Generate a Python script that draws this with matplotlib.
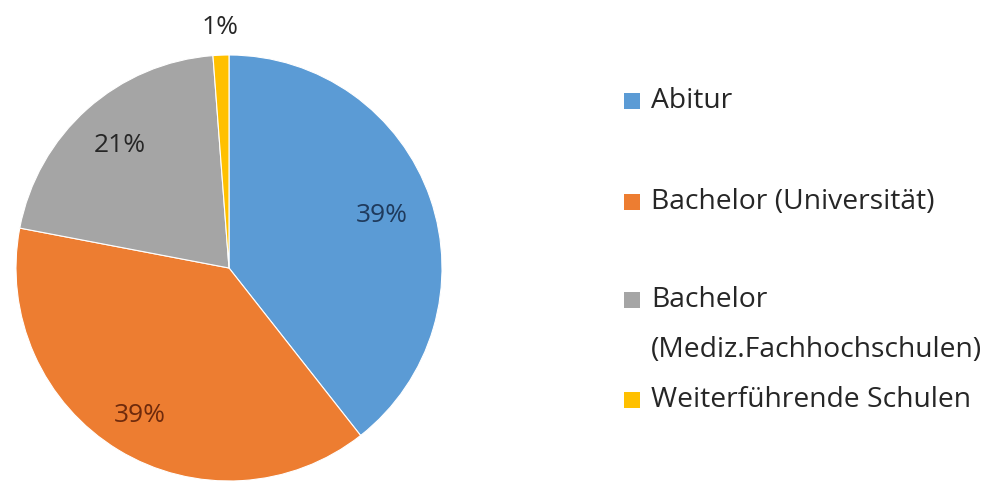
import numpy as np
import matplotlib
matplotlib.use("Agg")
import matplotlib.pyplot as plt
from matplotlib.patches import Rectangle

categories = ["Abitur", "Bachelor (Universität)", "Bachelor\n(Mediz.Fachhochschulen)", "Weiterführende Schulen"]
values = [39.4, 38.6, 20.8, 1.2]
pct_labels = ["39%", "39%", "21%", "1%"]
colors = ["#5B9BD5", "#ED7D31", "#A5A5A5", "#FFC000"]
label_colors = ["#1F3A5C", "#6E2A0C", "#262626", "#262626"]
label_dist = [0.76, 0.81, 0.77, 1.13]

plt.rcParams['font.family'] = ['Open Sans', 'DejaVu Sans']
W, H = 995, 483
fig = plt.figure(figsize=(W / 100, H / 100), dpi=100)
cx, cy, r = 229, 268, 213
ax = fig.add_axes([(cx - r) / W, (H - cy - r) / H, 2 * r / W, 2 * r / H])
wedges, _ = ax.pie(values, colors=colors, startangle=90, counterclock=False,
                   radius=1, wedgeprops=dict(edgecolor="white", linewidth=0.8))
ax.set_xlim(-1, 1)
ax.set_ylim(-1, 1)
ax.set_aspect("equal")
ax.axis("off")

for w, lab, d, tc in zip(wedges, pct_labels, label_dist, label_colors):
    ang = np.deg2rad((w.theta1 + w.theta2) / 2)
    ax.text(d * np.cos(ang), d * np.sin(ang), lab, ha="center", va="center",
            fontsize=19, color=tc)

# legend (manual layout)
leg_y = [101, 202, 300, 400]
sq = 16
for c, lab, y in zip(colors, categories, leg_y):
    fig.patches.append(Rectangle((624 / W, (H - y - sq / 2) / H), sq / W, sq / H,
                                 transform=fig.transFigure, facecolor=c, edgecolor="none"))
    lines = lab.split("\n")
    for i, line in enumerate(lines):
        fig.text(651 / W, (H - y - 50 * i) / H, line, ha="left", va="center",
                 fontsize=20.3, color="#262626")

fig.savefig("out.png", dpi=100, facecolor="white")
